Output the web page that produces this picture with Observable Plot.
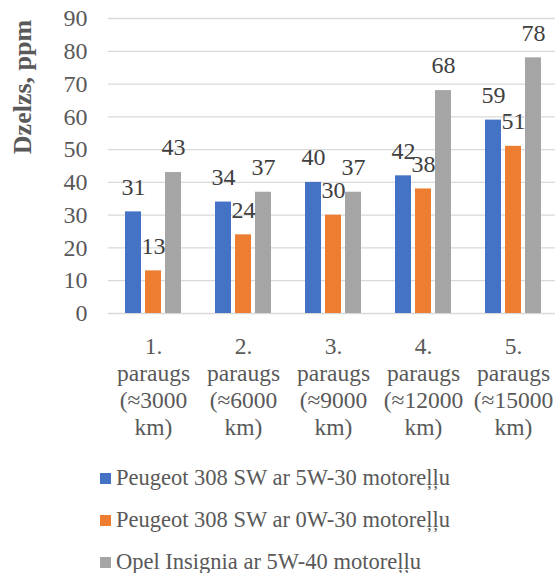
<!DOCTYPE html>
<html><head><meta charset="utf-8">
<script src="https://cdn.jsdelivr.net/npm/d3@7"></script>
<script src="https://cdn.jsdelivr.net/npm/@observablehq/plot@0.6"></script>
<style>
body{margin:0;overflow:hidden;background:#fff;font-family:'Liberation Serif',serif;}
#wrap{position:relative;width:555px;height:573px;overflow:hidden;}
#legend{position:absolute;left:100px;top:457px;color:#595959;font-size:22.5px;}
.row{display:flex;align-items:center;height:42px;white-space:nowrap;}
.sw{width:11px;height:11px;margin-right:5px;flex:none;}
svg text{font-family:'Liberation Serif',serif;}
</style></head><body><div id="wrap"><div id="chart"></div><div id="legend"></div></div>
<script>
const categories = ["1.\nparaugs\n(≈3000\nkm)", "2.\nparaugs\n(≈6000\nkm)", "3.\nparaugs\n(≈9000\nkm)", "4.\nparaugs\n(≈12000\nkm)", "5.\nparaugs\n(≈15000\nkm)"];
const series = ["Peugeot 308 SW ar 5W-30 motoreļļu", "Peugeot 308 SW ar 0W-30 motoreļļu", "Opel Insignia ar 5W-40 motoreļļu"];
const peugeot5w30 = [31, 34, 40, 42, 59];
const peugeot0w30 = [13, 24, 30, 38, 51];
const opel5w40 = [43, 37, 37, 68, 78];
const colors = ["#4472C4", "#ED7D31", "#A5A5A5"];
const yTicks = [0, 10, 20, 30, 40, 50, 60, 70, 80, 90];
const yLabel = "Dzelzs, ppm";

const values = [peugeot5w30, peugeot0w30, opel5w40];
const data = categories.flatMap((c, i) => series.map((s, j) => ({cat: c, series: s, value: values[j][i]})));
const serif = "'Liberation Serif', serif";

const chart = Plot.plot({
  width: 558,
  height: 440,
  marginLeft: 107,
  marginRight: 0,
  marginTop: 18,
  marginBottom: 127,
  style: {fontFamily: serif, fontSize: "23.5px", color: "#595959", maxWidth: "none", overflow: "visible", background: "transparent"},
  fx: {domain: categories, paddingInner: 0.38, paddingOuter: 0.19, label: null, axis: null},
  x: {domain: series, paddingInner: 0.22, paddingOuter: 0, axis: null},
  y: {domain: [0, 90], axis: null},
  color: {domain: series, range: colors},
  marks: [
    Plot.ruleY(yTicks, {y: d => d, stroke: "#D9D9D9", strokeWidth: 1.3, insetLeft: -17.3, insetRight: -17.3}),
    Plot.barY(data, {fx: "cat", x: "series", y: "value", fill: "series"}),
    Plot.text(data, {fx: "cat", x: "series", y: "value", text: d => String(d.value), dy: -25, fill: "#404040", fontSize: 24, fontFamily: serif, lineAnchor: "middle"}),
    Plot.axisY({ticks: yTicks, tickSize: 0, tickPadding: 38, label: null, fontSize: 24, fontFamily: serif, fill: "#595959"}),
    Plot.axisFx({anchor: "bottom", tickSize: 0, tickPadding: 21, label: null, fontSize: 23.5, fontFamily: serif, lineHeight: 1.15, fill: "#595959"})
  ]
});
document.getElementById("chart").appendChild(chart);

d3.select(chart).append("text")
  .attr("transform", "translate(22,87) rotate(-90)")
  .attr("text-anchor", "middle")
  .attr("dy", "0.35em")
  .attr("font-weight", "bold")
  .attr("font-size", 26)
  .attr("font-family", serif)
  .attr("fill", "#595959")
  .text(yLabel);

const legend = d3.select("#legend");
series.forEach((s, i) => {
  const row = legend.append("div").attr("class", "row");
  row.append("div").attr("class", "sw").style("background", colors[i]);
  row.append("span").text(s);
});
</script>
</body></html>
